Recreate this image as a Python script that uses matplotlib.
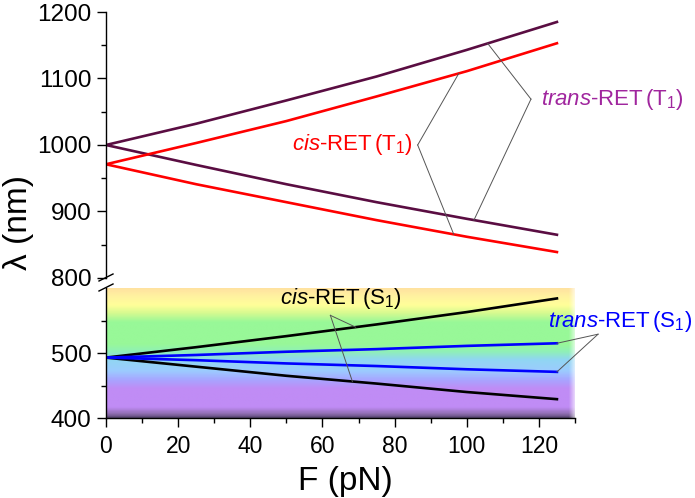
import numpy as np
import matplotlib
matplotlib.use('Agg')
import matplotlib.pyplot as plt
from matplotlib.colors import LinearSegmentedColormap
from matplotlib.lines import Line2D
from matplotlib.ticker import MultipleLocator, FixedLocator

plt.rcParams['font.family'] = ['Liberation Sans', 'DejaVu Sans']
plt.rcParams['mathtext.fontset'] = 'custom'
plt.rcParams['mathtext.rm'] = 'Liberation Sans'
plt.rcParams['mathtext.it'] = 'Liberation Sans:italic'

## data
force = [0, 25, 50, 75, 100, 125]

trans_T1_up = [1000, 1032, 1067, 1103, 1143, 1185]
trans_T1_dn = [1000, 970, 941, 914, 889, 865]
cis_T1_up = [971, 1003, 1036, 1073, 1111, 1153]
cis_T1_dn = [971, 941, 914, 887, 862, 839]

cis_S1_up = [493, 509, 526, 544, 563, 584]
cis_S1_dn = [493, 479, 465, 453, 440, 429]
trans_S1_up = [493, 497, 502, 506, 511, 515]
trans_S1_dn = [493, 489, 484, 480, 475, 471]

# visible-light background (nm -> colour)
bg_nm = [400, 405, 416, 445, 458, 472, 490, 502, 514, 548, 562, 574, 588, 600]
bg_col = ['#55446e', '#8a6aaa', '#c08cf5', '#c08cf5', '#a8a4ff', '#9ccbff',
          '#90d6f2', '#8ff0b8', '#98f898', '#98f898', '#d6fa90', '#ffff99',
          '#fff2a0', '#ffe2a0']

purple = '#5a0d42'
red = '#ff0000'
lw = 1.9

fig = plt.figure(figsize=(6.95, 4.98), dpi=100)
ax1 = fig.add_axes([0.1525, 0.4418, 0.6748, 0.5341])
ax2 = fig.add_axes([0.1525, 0.1606, 0.6748, 0.2610])

## top panel (T1)
ax1.plot(force, trans_T1_up, color=purple, lw=lw)
ax1.plot(force, trans_T1_dn, color=purple, lw=lw)
ax1.plot(force, cis_T1_up, color=red, lw=lw)
ax1.plot(force, cis_T1_dn, color=red, lw=lw)
ax1.set_xlim(0, 130)
ax1.set_ylim(800, 1200)
ax1.yaxis.set_major_locator(MultipleLocator(100))
ax1.yaxis.set_minor_locator(MultipleLocator(50))
for s in ['top', 'right', 'bottom']:
    ax1.spines[s].set_visible(False)
ax1.set_xticks([])

## bottom panel (S1)
pos = (np.array(bg_nm) - 400) / 200.0
cmap = LinearSegmentedColormap.from_list('vis', list(zip(pos, bg_col)))
yy = np.linspace(400, 600, 300)
xx = np.linspace(0, 131, 400)
img = cmap((yy - 400) / 200.0)[:, None, :].repeat(len(xx), axis=1)
fade = np.clip((131 - xx) / 2.5, 0, 1)
img[:, :, 3] = fade[None, :]
ax2.imshow(img, extent=[0, 131, 400, 600], origin='lower', aspect='auto',
           interpolation='bilinear', zorder=0)

ax2.plot(force, cis_S1_up, color='black', lw=lw)
ax2.plot(force, cis_S1_dn, color='black', lw=lw)
ax2.plot(force, trans_S1_up, color='#0000ff', lw=lw)
ax2.plot(force, trans_S1_dn, color='#0000ff', lw=lw)
ax2.set_xlim(0, 130)
ax2.set_ylim(400, 600)
ax2.yaxis.set_major_locator(FixedLocator([400, 500]))
ax2.yaxis.set_minor_locator(FixedLocator([450, 550]))
ax2.xaxis.set_major_locator(MultipleLocator(20))
ax2.xaxis.set_minor_locator(MultipleLocator(10))
for s in ['top', 'right']:
    ax2.spines[s].set_visible(False)

for ax in (ax1, ax2):
    ax.tick_params(which='major', direction='out', length=6.5, width=1.0)
    ax.tick_params(which='minor', direction='out', length=3.5, width=1.0)
    ax.tick_params(axis='y', labelsize=17.5, pad=4)
    ax.tick_params(axis='x', labelsize=16.5, pad=6)
    for s in ax.spines.values():
        s.set_linewidth(1.0)

## leader lines
def leader(ax, vx, vy, ends):
    for (fx, ys) in ends:
        ax.plot([vx, fx], [vy, np.interp(fx, force, ys)], color='#555555',
                lw=0.7, clip_on=False)

leader(ax1, 86.4, 1000, [(97.8, cis_T1_up), (96.4, cis_T1_dn)])
leader(ax1, 117.8, 1069, [(105.8, trans_T1_up), (102, trans_T1_dn)])
leader(ax2, 62.2, 558, [(69.2, cis_S1_up), (68.3, cis_S1_dn)])
leader(ax2, 136.4, 529, [(125, trans_S1_up), (125, trans_S1_dn)])

ax1.text(85, 1000, r'$\it{cis}$-RET$\,$(T$_1$)', color=red, fontsize=16,
         ha='right', va='center')
ax1.text(120.6, 1069, r'$\it{trans}$-RET$\,$(T$_1$)', color='#a0269e',
         fontsize=16, ha='left', va='center', clip_on=False)
ax2.text(48.3, 584, r'$\it{cis}$-RET$\,$(S$_1$)', color='black', fontsize=16,
         ha='left', va='center')
ax2.text(122.5, 548, r'$\it{trans}$-RET$\,$(S$_1$)', color='#0000ff',
         fontsize=16, ha='left', va='center', clip_on=False)

## axis break marks
W, H = 695.0, 498.0
for y0 in (281, 291):
    fig.add_artist(Line2D([99 / W, 113 / W], [1 - y0 / H, 1 - (y0 - 7) / H],
                          color='black', lw=1.0))

fig.text(19 / W, 1 - 222 / H, 'λ (nm)', rotation=90, fontsize=24,
         ha='center', va='center')
fig.text(345 / W, 1 - 481 / H, 'F (pN)', fontsize=24, ha='center', va='center')

plt.savefig('out.png', format='png')
